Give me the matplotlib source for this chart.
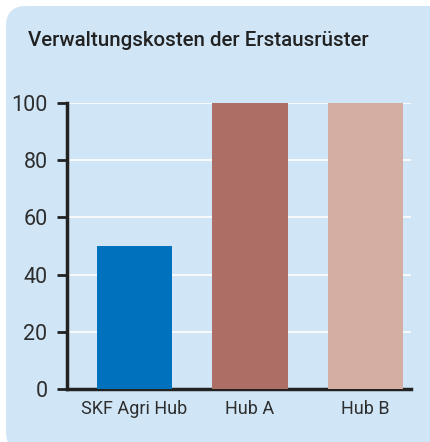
import matplotlib.pyplot as plt
from matplotlib.patches import FancyBboxPatch

categories = ["SKF Agri Hub", "Hub A", "Hub B"]
values = [50, 100, 100]
colors = ["#0071bc", "#ad6e65", "#d4aea3"]
yticks = [0, 20, 40, 60, 80, 100]
title = "Verwaltungskosten der Erstausrüster"

plt.rcParams['font.family'] = ['Roboto', 'DejaVu Sans']

fig = plt.figure(figsize=(4.3, 4.42), dpi=100)

# light blue rounded panel (inches), behind everything
panel = FancyBboxPatch((0.06, -0.1), 4.5, 4.46, boxstyle="round,pad=0,rounding_size=0.2",
                       transform=fig.dpi_scale_trans, facecolor="#d0e6f6", edgecolor="none",
                       zorder=-10)
fig.patches.append(panel)

fig.text(28 / 430, 1 - 40 / 442, title, fontsize=14.8, weight="medium", color="#222222",
         va="center", ha="left")

ax = fig.add_axes([67 / 430, 1 - 389 / 442, (411 - 67) / 430, (389 - 103) / 442])
ax.set_facecolor("none")
x = range(len(categories))
ax.bar(x, values, width=0.65, color=colors, zorder=3)
ax.set_xlim(-0.584, 2.394)
ax.set_ylim(0, 100)
ax.set_yticks(yticks)
ax.set_xticks(list(x))
ax.set_xticklabels(categories)
ax.yaxis.grid(True, color="white", linewidth=1.2, zorder=0)
ax.set_axisbelow(True)

for s in ["top", "right"]:
    ax.spines[s].set_visible(False)
for s in ["left", "bottom"]:
    ax.spines[s].set_linewidth(2.5)
    ax.spines[s].set_color("#222222")
ax.tick_params(axis="y", length=7, width=2, color="#222222", labelsize=15.5,
               labelcolor="#2e2e2e", pad=7)
ax.tick_params(axis="x", length=0, labelsize=13, labelcolor="#2e2e2e", pad=8)

fig.savefig("out.png", dpi=100)
